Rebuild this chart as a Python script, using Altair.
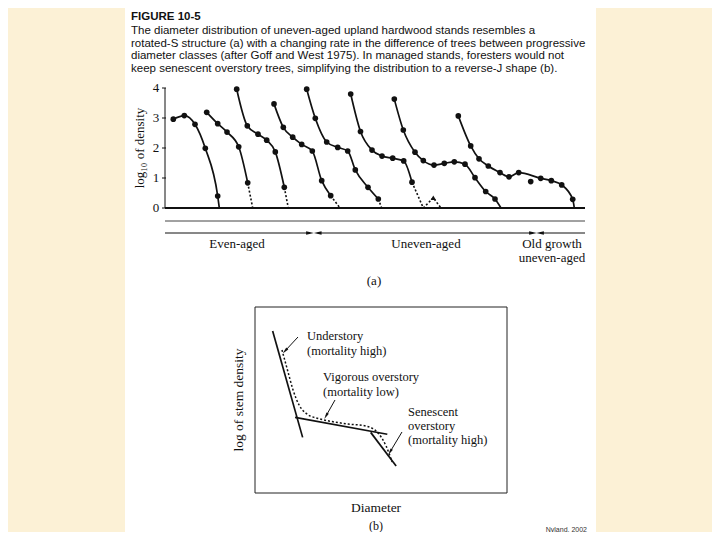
import math
import altair as alt
import pandas as pd

# ---------------- panel (a) data ----------------
# x: diameter-class position along the axis (arbitrary units), y: log10 of density
c1_x = [0.83, 1.93, 3.00, 4.03, 5.27]
c1_y = [2.96, 3.08, 2.79, 1.99, 0.40]
c2_x = [4.17, 5.27, 6.20, 7.37, 8.27]
c2_y = [3.19, 2.81, 2.53, 2.04, 0.84]
c3_x = [7.17, 8.23, 9.30, 10.17, 11.03, 11.93]
c3_y = [3.96, 2.74, 2.46, 2.26, 1.87, 0.69]
c4_x = [10.90, 11.83, 12.77, 13.67, 14.73, 15.67, 16.57]
c4_y = [3.47, 2.69, 2.36, 2.12, 1.90, 0.91, 0.41]
c5_x = [14.17, 15.03, 16.17, 17.27, 18.27, 19.03, 20.30, 21.33]
c5_y = [3.96, 2.99, 2.20, 2.02, 1.90, 1.27, 0.69, 0.30]
c6_x = [18.57, 19.55, 20.70, 21.70, 22.77, 23.87, 24.70]
c6_y = [3.80, 2.55, 1.93, 1.73, 1.66, 1.57, 0.86]
c7_x = [22.93, 23.83, 25.00, 25.83, 26.90, 27.93, 28.93, 30.00, 31.00, 32.07, 33.00]
c7_y = [3.63, 2.60, 1.86, 1.58, 1.43, 1.49, 1.54, 1.46, 1.01, 0.55, 0.30]
c8_x = [29.33, 30.57, 31.40, 32.33, 33.50, 34.40, 35.37, 36.57, 37.57, 38.63, 39.67, 40.77]
c8_y = [3.07, 2.07, 1.64, 1.40, 1.18, 1.04, 1.18, 0.88, 0.99, 0.91, 0.77, 0.29]
c8_off_line = [36.57]          # scattered point not on the fitted curve

# where each curve reaches zero, and whether that tail is dotted
tail_x = [5.43, 8.77, 12.33, 17.50, 21.67, 25.83, 33.60, 40.93]
tail_dotted = [False, True, True, True, True, True, False, False]
# dotted bump after curve 6
bump_x = [25.83, 26.83, 27.60]
bump_y = [0.0, 0.34, 0.0]

y_ticks = [0, 1, 2, 3, 4]

range_labels = ["Even-aged", "Uneven-aged", "Old growth"]
range_label2 = ["", "", "uneven-aged"]
range_label_x = [7.2, 26.1, 38.7]
range_start = [0.0, 15.27, 37.50]
range_end = [14.50, 36.80, 42.00]
head_x = [14.50, 15.27, 36.80, 37.50]
head_dir = ["right", "left", "right", "left"]

# ---------------- panel (b) data ----------------
seg_x1 = [7.0, 15.9, 45.9]
seg_y1 = [87.1, 40.7, 32.6]
seg_x2 = [18.9, 52.5, 56.0]
seg_y2 = [29.9, 31.6, 14.5]
dot_x = [10.7, 13.1, 15.1, 17.5, 20.6, 25.0, 30.6, 36.9, 44.0, 46.4, 48.8, 52.0, 54.4]
dot_y = [76.9, 65.1, 55.4, 47.3, 42.5, 40.1, 38.4, 37.1, 36.0, 34.9, 32.3, 25.3, 16.7]
arr_x1 = [17.06, 31.75, 58.33]
arr_y1 = [83.87, 50.00, 32.80]
arr_x2 = [11.90, 28.17, 53.57]
arr_y2 = [76.34, 41.40, 22.04]

caption = [
    "The diameter distribution of uneven-aged upland hardwood stands resembles a",
    "rotated-S structure (a) with a changing rate in the difference of trees between progressive",
    "diameter classes (after Goff and West 1975). In managed stands, foresters would not",
    "keep senescent overstory trees, simplifying the distribution to a reverse-J shape (b).",
]

# ---------------- layout helpers ----------------
OX, OY = 8, 8
def px(v):
    return v - OX
def py(v):
    return v - OY

W, H = 704, 524
SERIF = "Liberation Serif"
SANS = "Liberation Sans"
INK = "#111111"

XA = alt.Scale(domain=[0, 42], range=[px(165), px(585)], nice=False, zero=False)
YA = alt.Scale(domain=[0, 4], range=[py(208), py(88)], nice=False, zero=False)
XB = alt.Scale(domain=[0, 100], range=[px(255), px(507)], nice=False, zero=False)
YB = alt.Scale(domain=[0, 100], range=[py(493), py(307)], nice=False, zero=False)

def xa(f):
    return alt.X(f, type="quantitative", scale=XA, axis=None)
def ya(f):
    return alt.Y(f, type="quantitative", scale=YA, axis=None)
def xb(f):
    return alt.X(f, type="quantitative", scale=XB, axis=None)
def yb(f):
    return alt.Y(f, type="quantitative", scale=YB, axis=None)

one = pd.DataFrame({"k": [0]})
layers = []

# white page
layers.append(alt.Chart(one).mark_rect(color="white").encode(
    x=alt.value(px(125)), x2=alt.value(px(596)), y=alt.value(0), y2=alt.value(H)))

# caption
layers.append(alt.Chart(one).mark_text(align="left", baseline="middle", font=SANS,
    fontSize=11.5, fontWeight="bold", color=INK, text="FIGURE 10-5").encode(
    x=alt.value(px(131)), y=alt.value(py(17))))
cap_df = pd.DataFrame({"t": caption, "yy": [py(31), py(43.5), py(56), py(68.5)]})
layers.append(alt.Chart(cap_df).mark_text(align="left", baseline="middle", font=SANS,
    fontSize=11.5, color=INK).encode(x=alt.value(px(131)), y=alt.Y("yy:Q", scale=None), text="t:N"))

# ---------------- panel (a) ----------------
curves_x = [c1_x, c2_x, c3_x, c4_x, c5_x, c6_x, c7_x, c8_x]
curves_y = [c1_y, c2_y, c3_y, c4_y, c5_y, c6_y, c7_y, c8_y]

pts = []
solid = []
dotted = []
for i, (cx, cy) in enumerate(zip(curves_x, curves_y)):
    for j, (a, b) in enumerate(zip(cx, cy)):
        pts.append({"x": a, "y": b})
        if not (i == 7 and a in c8_off_line):
            solid.append({"c": i, "x": a, "y": b, "o": j})
    if tail_dotted[i]:
        dotted.append({"c": f"t{i}", "x": cx[-1], "y": cy[-1], "o": 0})
        dotted.append({"c": f"t{i}", "x": tail_x[i], "y": 0.0, "o": 1})
    else:
        solid.append({"c": i, "x": tail_x[i], "y": 0.0, "o": len(cx)})
for j, (a, b) in enumerate(zip(bump_x, bump_y)):
    dotted.append({"c": "bump", "x": a, "y": b, "o": j})

pts_df = pd.DataFrame(pts)
solid_df = pd.DataFrame(solid)
dotted_df = pd.DataFrame(dotted)

# axis
layers.append(alt.Chart(pd.DataFrame({"x": [0], "y": [0], "y2": [4]})).mark_rule(
    color=INK, strokeWidth=1).encode(x=xa("x"), y=ya("y"), y2="y2:Q"))
tick_df = pd.DataFrame({"t": y_ticks})
layers.append(alt.Chart(tick_df).mark_rule(color=INK, strokeWidth=1).encode(
    x=alt.value(px(162)), x2=alt.value(px(166)), y=ya("t")))
layers.append(alt.Chart(tick_df).mark_text(align="center", baseline="middle", font=SERIF,
    fontSize=13, color=INK).encode(x=alt.value(px(156)), y=ya("t"), text="t:N"))
layers.append(alt.Chart(one).mark_text(align="center", baseline="middle", font=SERIF,
    fontSize=13, color=INK, angle=270, text="log\u2081\u2080 of density").encode(
    x=alt.value(px(140)), y=alt.value(py(148))))

# baselines
base_df = pd.DataFrame({"x": [0.0], "x2": [42.0], "y": [0.0]})
layers.append(alt.Chart(base_df).mark_rule(color=INK, strokeWidth=2).encode(
    x=xa("x"), x2="x2:Q", y=ya("y")))
layers.append(alt.Chart(base_df).mark_rule(color="#444444", strokeWidth=1).encode(
    x=xa("x"), x2="x2:Q", y=alt.value(py(221))))

# curves
layers.append(alt.Chart(solid_df).mark_line(color=INK, strokeWidth=1.7, interpolate="monotone").encode(
    x=xa("x"), y=ya("y"), detail="c:N", order="o:Q"))
layers.append(alt.Chart(dotted_df).mark_line(color=INK, strokeWidth=1.6, strokeDash=[2, 2]).encode(
    x=xa("x"), y=ya("y"), detail="c:N", order="o:Q"))
layers.append(alt.Chart(pts_df).mark_circle(color=INK, size=32, opacity=1).encode(
    x=xa("x"), y=ya("y")))
bump_pt = pd.DataFrame({"x": [bump_x[1]], "y": [bump_y[1]]})
layers.append(alt.Chart(bump_pt).mark_point(shape="triangle-up", filled=True, color=INK,
    size=28, opacity=1).encode(x=xa("x"), y=ya("y")))

# ranges with arrows
rng_df = pd.DataFrame({"s": range_start, "e": range_end})
layers.append(alt.Chart(rng_df).mark_rule(color=INK, strokeWidth=1).encode(
    x=xa("s"), x2="e:Q", y=alt.value(py(233))))
ARROW = "M-1,-0.42L1,0L-1,0.42Z"
head_df = pd.DataFrame({"x": head_x, "d": head_dir})
layers.append(alt.Chart(head_df[head_df.d == "right"]).mark_point(shape=ARROW, filled=True,
    color=INK, size=60, opacity=1, angle=0).encode(x=xa("x"), y=alt.value(py(233))))
layers.append(alt.Chart(head_df[head_df.d == "left"]).mark_point(shape=ARROW, filled=True,
    color=INK, size=60, opacity=1, angle=180).encode(x=xa("x"), y=alt.value(py(233))))
lab_df = pd.DataFrame({"x": range_label_x, "t": range_labels, "t2": range_label2})
layers.append(alt.Chart(lab_df).mark_text(align="center", baseline="middle", font=SERIF,
    fontSize=13, color=INK).encode(x=xa("x"), y=alt.value(py(244)), text="t:N"))
layers.append(alt.Chart(lab_df).mark_text(align="center", baseline="middle", font=SERIF,
    fontSize=13, color=INK).encode(x=xa("x"), y=alt.value(py(258)), text="t2:N"))
layers.append(alt.Chart(one).mark_text(align="center", baseline="middle", font=SERIF,
    fontSize=13, color=INK, text="(a)").encode(x=alt.value(px(374)), y=alt.value(py(281))))

# ---------------- panel (b) ----------------
box_df = pd.DataFrame({"x": [0], "x2": [100], "y": [0], "y2": [100]})
layers.append(alt.Chart(box_df).mark_rect(fill=None, stroke="#222222", strokeWidth=1).encode(
    x=xb("x"), x2="x2:Q", y=yb("y"), y2="y2:Q"))
seg_df = pd.DataFrame({"x": seg_x1, "y": seg_y1, "x2": seg_x2, "y2": seg_y2})
layers.append(alt.Chart(seg_df).mark_rule(color=INK, strokeWidth=1.7).encode(
    x=xb("x"), y=yb("y"), x2="x2:Q", y2="y2:Q"))
dot_df = pd.DataFrame({"x": dot_x, "y": dot_y, "o": list(range(len(dot_x)))})
layers.append(alt.Chart(dot_df).mark_line(color=INK, strokeWidth=1.5, strokeDash=[2, 2],
    interpolate="monotone").encode(x=xb("x"), y=yb("y"), order="o:Q"))
arr_df = pd.DataFrame({"x": arr_x1, "y": arr_y1, "x2": arr_x2, "y2": arr_y2})
layers.append(alt.Chart(arr_df).mark_rule(color=INK, strokeWidth=1).encode(
    x=xb("x"), y=yb("y"), x2="x2:Q", y2="y2:Q"))
sx = (507 - 255) / 100.0
sy = (493 - 307) / 100.0
for a1, b1, a2, b2 in zip(arr_x1, arr_y1, arr_x2, arr_y2):
    ang = math.degrees(math.atan2(-(b2 - b1) * sy, (a2 - a1) * sx)) % 360
    layers.append(alt.Chart(pd.DataFrame({"x": [a2], "y": [b2]})).mark_point(
        shape=ARROW, filled=True, color=INK, size=45, opacity=1, angle=ang).encode(
        x=xb("x"), y=yb("y")))

notes = [
    ("Understory", 307, 336), ("(mortality high)", 307, 351),
    ("Vigorous overstory", 323, 377), ("(mortality low)", 323, 391.5),
    ("Senescent", 408, 412), ("overstory", 408, 426), ("(mortality high)", 408, 440),
]
notes_df = pd.DataFrame({"t": [n[0] for n in notes], "xx": [px(n[1]) for n in notes],
                         "yy": [py(n[2]) for n in notes]})
layers.append(alt.Chart(notes_df).mark_text(align="left", baseline="middle", font=SERIF,
    fontSize=12.5, color=INK).encode(x=alt.X("xx:Q", scale=None), y=alt.Y("yy:Q", scale=None), text="t:N"))
layers.append(alt.Chart(one).mark_text(align="center", baseline="middle", font=SERIF,
    fontSize=13.5, color=INK, angle=270, text="log of stem density").encode(
    x=alt.value(px(239)), y=alt.value(py(400))))
layers.append(alt.Chart(one).mark_text(align="center", baseline="middle", font=SERIF,
    fontSize=13.5, color=INK, text="Diameter").encode(x=alt.value(px(376)), y=alt.value(py(508))))
layers.append(alt.Chart(one).mark_text(align="center", baseline="middle", font=SERIF,
    fontSize=12, color=INK, text="(b)").encode(x=alt.value(px(376)), y=alt.value(py(526))))
layers.append(alt.Chart(one).mark_text(align="right", baseline="middle", font=SANS,
    fontSize=7, color="#333333", text="Nyland, 2002").encode(x=alt.value(px(587)), y=alt.value(py(530))))

chart = alt.layer(*layers).resolve_scale(x="independent", y="independent").properties(
    width=W, height=H, autosize="none", padding=0
).configure(background="#FCF1D6").configure_view(stroke=None)

chart.save("out.html", embed_options={"renderer": "svg", "actions": False})
